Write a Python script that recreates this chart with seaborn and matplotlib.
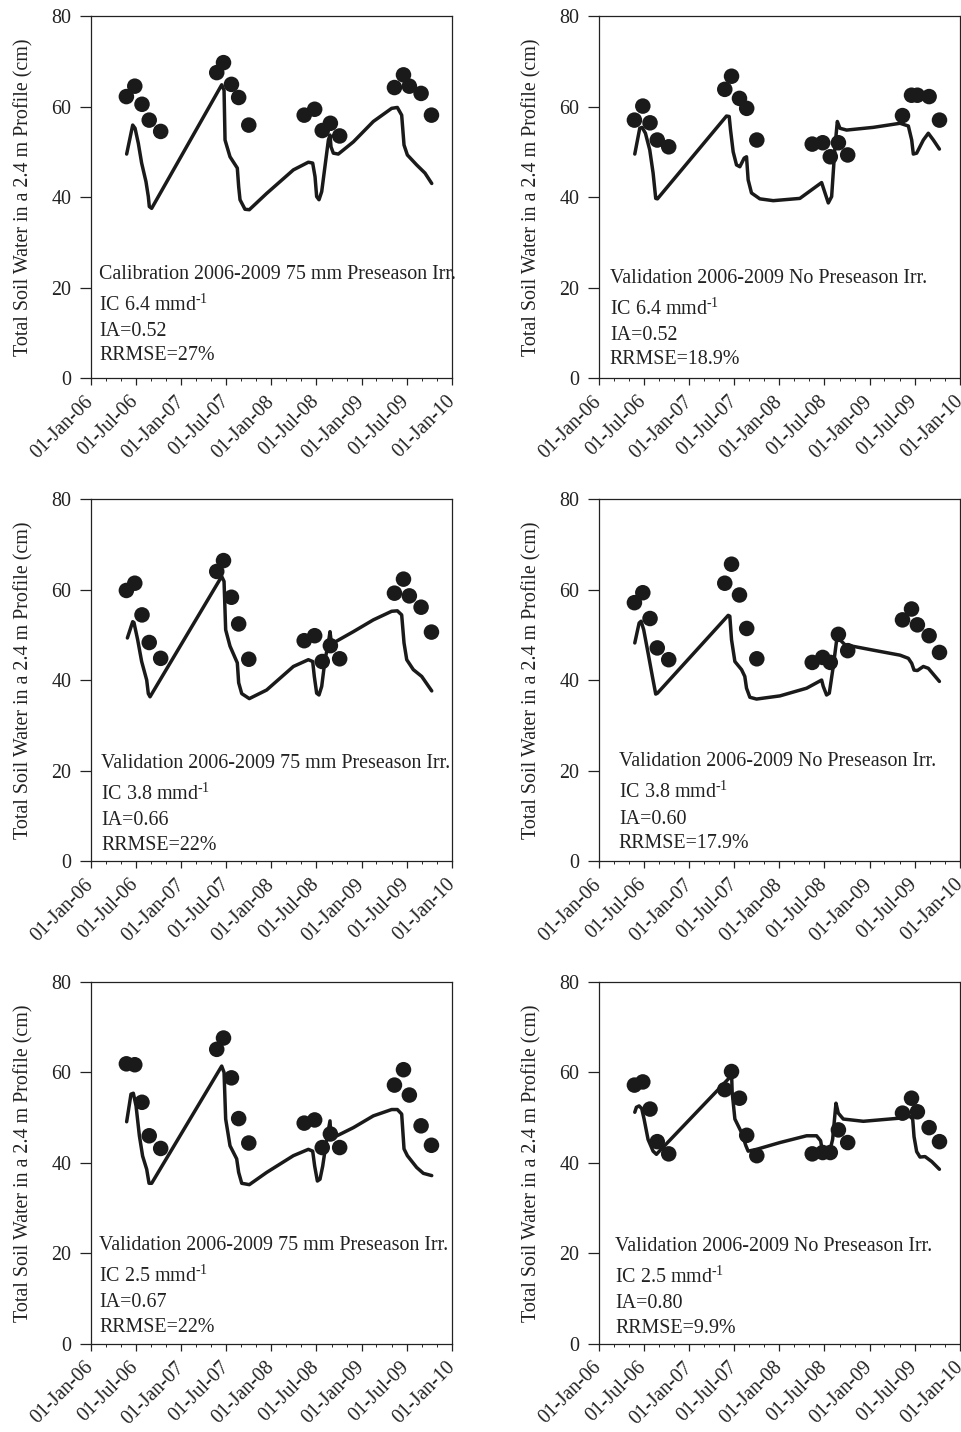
import numpy as np
import pandas as pd
import matplotlib
matplotlib.use("Agg")
import matplotlib.pyplot as plt
import matplotlib.dates as mdates
import seaborn as sns

obs_t = [2006.392, 2006.485, 2006.565, 2006.645, 2006.772,
         2007.393, 2007.468, 2007.556, 2007.636, 2007.748,
         2008.362, 2008.478, 2008.562, 2008.652, 2008.755,
         2009.362, 2009.462, 2009.527, 2009.657, 2009.772]

# measured total soil water (cm)
obs_1 = [62.2, 64.5, 60.5, 57.0, 54.5, 67.5, 69.7, 64.9, 62.0, 55.9,
         58.1, 59.4, 54.7, 56.3, 53.5, 64.2, 67.0, 64.5, 62.9, 58.1]
obs_2 = [57.0, 60.1, 56.4, 52.6, 51.1, 63.8, 66.7, 61.8, 59.6, 52.6,
         51.7, 52.0, 48.9, 52.0, 49.3, 58.0, 62.5, 62.5, 62.2, 57.0]
obs_3 = [59.8, 61.4, 54.4, 48.3, 44.8, 64.0, 66.4, 58.3, 52.4, 44.6,
         48.7, 49.8, 44.1, 47.6, 44.7, 59.2, 62.3, 58.6, 56.1, 50.6]
obs_4 = [57.1, 59.3, 53.6, 47.1, 44.5, 61.4, 65.6, 58.8, 51.4, 44.7,
         43.9, 45.0, 43.9, 50.1, 46.5, 53.3, 55.7, 52.2, 49.8, 46.1]
obs_5 = [61.9, 61.7, 53.4, 46.0, 43.2, 65.1, 67.6, 58.8, 49.8, 44.4,
         48.8, 49.5, 43.4, 46.4, 43.4, 57.2, 60.6, 55.0, 48.2, 43.9]
obs_6 = [57.2, 57.9, 51.9, 44.7, 42.0, 56.2, 60.2, 54.3, 46.1, 41.6,
         42.0, 42.3, 42.3, 47.3, 44.5, 51.0, 54.3, 51.3, 47.8, 44.7]

# simulated curves (decimal year, cm)
sim_t_1 = [2006.395, 2006.462, 2006.488, 2006.524, 2006.561, 2006.609, 2006.635, 2006.646, 2006.672,
           2007.448, 2007.474, 2007.485, 2007.540, 2007.621, 2007.636, 2007.651, 2007.706, 2007.754,
           2007.946, 2008.242, 2008.408, 2008.456, 2008.482, 2008.500, 2008.526, 2008.556, 2008.630,
           2008.648, 2008.659, 2008.685, 2008.740, 2008.907, 2009.128, 2009.331, 2009.394, 2009.442,
           2009.468, 2009.505, 2009.608, 2009.700, 2009.775]
sim_v_1 = [49.5, 55.9, 55.2, 51.9, 47.5, 43.4, 40.1, 37.9, 37.5,
           64.8, 63.6, 52.6, 48.9, 46.4, 42.3, 39.4, 37.3, 37.2,
           40.8, 46.0, 47.7, 47.5, 44.5, 40.1, 39.4, 41.2, 52.6,
           53.7, 51.1, 49.7, 49.5, 52.2, 56.7, 59.6, 59.8, 58.1,
           51.5, 49.3, 47.1, 45.3, 43.0]

sim_t_2 = [2006.396, 2006.451, 2006.477, 2006.514, 2006.562, 2006.599, 2006.628, 2006.647,
           2007.412, 2007.442, 2007.457, 2007.486, 2007.523, 2007.560, 2007.608, 2007.634, 2007.652,
           2007.689, 2007.782, 2007.930, 2008.225, 2008.466, 2008.492, 2008.540, 2008.577, 2008.614,
           2008.640, 2008.669, 2008.743, 2009.039, 2009.335, 2009.427, 2009.464, 2009.482, 2009.519,
           2009.593, 2009.648, 2009.704, 2009.771]
sim_v_2 = [49.5, 55.2, 55.4, 54.1, 50.4, 45.3, 39.7, 39.6,
           57.9, 57.8, 54.8, 50.0, 47.1, 46.7, 48.6, 48.9, 43.8,
           40.9, 39.6, 39.2, 39.7, 43.2, 41.6, 38.7, 40.1, 51.1,
           56.7, 55.2, 54.8, 55.4, 56.3, 55.7, 52.6, 49.5, 49.7,
           52.6, 54.1, 52.6, 50.6]

sim_t_3 = [2006.403, 2006.462, 2006.476, 2006.517, 2006.561, 2006.617, 2006.635, 2006.654,
           2007.448, 2007.474, 2007.492, 2007.540, 2007.621, 2007.636, 2007.670, 2007.754,
           2007.946, 2008.242, 2008.408, 2008.456, 2008.474, 2008.500, 2008.526, 2008.556, 2008.593,
           2008.630, 2008.648, 2008.659, 2008.685, 2008.907, 2009.128, 2009.331, 2009.394, 2009.442,
           2009.468, 2009.498, 2009.571, 2009.664, 2009.775]
sim_v_3 = [49.3, 52.9, 52.7, 48.9, 44.1, 40.0, 37.0, 36.3,
           62.9, 61.8, 51.1, 47.5, 43.8, 39.4, 37.0, 35.9,
           37.8, 43.0, 44.5, 44.1, 40.8, 37.1, 36.7, 38.6, 44.5,
           48.2, 50.7, 48.9, 48.2, 50.7, 53.3, 55.2, 55.3, 54.4,
           48.2, 44.5, 42.3, 40.8, 37.6]

sim_t_4 = [2006.396, 2006.444, 2006.466, 2006.495, 2006.543, 2006.591, 2006.628, 2006.647,
           2007.431, 2007.449, 2007.468, 2007.505, 2007.579, 2007.615, 2007.634, 2007.671, 2007.745,
           2008.004, 2008.300, 2008.466, 2008.484, 2008.521, 2008.551, 2008.595, 2008.640, 2008.669,
           2008.725, 2009.039, 2009.335, 2009.427, 2009.464, 2009.490, 2009.527, 2009.593, 2009.648,
           2009.771]
sim_v_4 = [48.2, 52.6, 53.0, 51.1, 46.0, 40.8, 36.9, 37.1,
           54.3, 54.1, 48.9, 44.1, 42.3, 40.8, 38.2, 36.2, 35.8,
           36.5, 38.2, 40.0, 38.6, 36.7, 37.1, 43.0, 50.0, 48.9,
           47.8, 46.6, 45.5, 44.8, 43.7, 42.2, 42.1, 43.0, 42.6,
           39.7]

sim_t_5 = [2006.395, 2006.443, 2006.469, 2006.499, 2006.536, 2006.572, 2006.617, 2006.643, 2006.672,
           2007.448, 2007.474, 2007.492, 2007.540, 2007.614, 2007.636, 2007.670, 2007.754,
           2007.946, 2008.242, 2008.408, 2008.456, 2008.478, 2008.508, 2008.537, 2008.567, 2008.611,
           2008.648, 2008.659, 2008.685, 2008.907, 2009.128, 2009.331, 2009.394, 2009.442, 2009.468,
           2009.505, 2009.608, 2009.682, 2009.775]
sim_v_5 = [49.1, 55.2, 55.4, 52.6, 46.0, 41.5, 38.6, 35.5, 35.5,
           61.4, 60.0, 49.7, 43.8, 40.9, 37.9, 35.5, 35.2,
           37.9, 41.6, 43.0, 42.6, 39.3, 36.0, 36.4, 39.3, 45.2,
           49.3, 45.2, 45.6, 47.8, 50.4, 51.8, 51.8, 50.8, 43.1,
           41.6, 39.0, 37.7, 37.2]

sim_t_6 = [2006.396, 2006.414, 2006.444, 2006.473, 2006.499, 2006.543, 2006.599, 2006.636, 2006.654,
           2007.449, 2007.468, 2007.475, 2007.505, 2007.579, 2007.627, 2007.652, 2007.745,
           2008.004, 2008.300, 2008.410, 2008.455, 2008.477, 2008.521, 2008.566, 2008.588, 2008.625,
           2008.651, 2008.706, 2008.928, 2009.335, 2009.444, 2009.475, 2009.490, 2009.519, 2009.556,
           2009.612, 2009.686, 2009.771]
sim_v_6 = [51.2, 52.3, 52.6, 52.0, 49.7, 45.2, 42.6, 41.9, 42.3,
           58.9, 60.0, 55.6, 49.7, 46.7, 43.8, 42.6, 43.0,
           44.5, 46.0, 46.0, 44.9, 42.3, 42.1, 43.4, 45.2, 53.2,
           51.0, 49.7, 49.2, 49.9, 50.3, 49.7, 45.8, 42.5, 41.3,
           41.4, 40.3, 38.6]

titles = ["Calibration 2006-2009 75 mm Preseason Irr.",
          "Validation 2006-2009 No Preseason Irr.",
          "Validation 2006-2009 75 mm Preseason Irr.",
          "Validation 2006-2009 No Preseason Irr.",
          "Validation 2006-2009 75 mm Preseason Irr.",
          "Validation 2006-2009 No Preseason Irr."]
ic_vals = ["6.4", "6.4", "3.8", "3.8", "2.5", "2.5"]
ia_vals = ["0.52", "0.52", "0.66", "0.60", "0.67", "0.80"]
rrmse_vals = ["27%", "18.9%", "22%", "17.9%", "22%", "9.9%"]

obs_all = [obs_1, obs_2, obs_3, obs_4, obs_5, obs_6]
sim_all = [(sim_t_1, sim_v_1), (sim_t_2, sim_v_2), (sim_t_3, sim_v_3),
           (sim_t_4, sim_v_4), (sim_t_5, sim_v_5), (sim_t_6, sim_v_6)]


def to_dates(t):
    t = np.asarray(t)
    return pd.Timestamp("2006-01-01") + pd.to_timedelta((t - 2006) * 365.25, unit="D")


sns.set_style("ticks")
plt.rcParams["font.family"] = ["Liberation Serif", "DejaVu Serif"]
plt.rcParams["mathtext.fontset"] = "custom"
plt.rcParams["mathtext.rm"] = "Liberation Serif"
plt.rcParams["mathtext.it"] = "Liberation Serif:italic"
plt.rcParams["axes.linewidth"] = 0.9
plt.rcParams["axes.edgecolor"] = "#222222"

ink = "#1a1a1a"
fig = plt.figure(figsize=(9.62, 14.32), dpi=100)

lefts = [0.0946, 0.6227]
bottoms = [0.736, 0.3987, 0.0615]
text_x = [0.022, 0.030, 0.028, 0.055, 0.022, 0.044]
text_y0 = [21.9, 21.0, 20.5, 20.9, 20.7, 20.5]
fs = 14.4

for i in range(6):
    ax = fig.add_axes([lefts[i % 2], bottoms[i // 2], 0.3753, 0.2528])

    st, sv = sim_all[i]
    sim_df = pd.DataFrame({"date": to_dates(st), "tsw": sv})
    obs_df = pd.DataFrame({"date": to_dates(obs_t), "tsw": obs_all[i]})

    sns.lineplot(data=sim_df, x="date", y="tsw", ax=ax, color=ink, lw=2.5,
                 sort=False, estimator=None, solid_joinstyle="round",
                 solid_capstyle="round")
    sns.scatterplot(data=obs_df, x="date", y="tsw", ax=ax, color=ink, s=125,
                    edgecolor="none", zorder=3)

    ax.set_xlim(pd.Timestamp("2006-01-01"), pd.Timestamp("2010-01-01"))
    ax.set_ylim(0, 80)
    ax.set_yticks([0, 20, 40, 60, 80])
    ax.xaxis.set_major_locator(mdates.MonthLocator(bymonth=[1, 7]))
    ax.xaxis.set_minor_locator(mdates.MonthLocator(interval=2))
    ax.xaxis.set_major_formatter(mdates.DateFormatter("%d-%b-%y"))
    ax.tick_params(axis="y", direction="out", length=8, width=0.9, labelsize=fs,
                   pad=6, colors="#222222", right=False)
    ax.tick_params(axis="x", which="major", direction="out", length=5, width=0.9,
                   labelsize=fs, pad=10, colors="#222222", top=False)
    ax.tick_params(axis="x", which="minor", direction="out", length=2.5, width=0.7,
                   top=False)
    for lab in ax.get_xticklabels():
        lab.set_rotation(45)
        lab.set_ha("right")
        lab.set_va("center")
        lab.set_rotation_mode("anchor")

    ax.set_xlabel("")
    ax.set_ylabel("Total Soil Water in a 2.4 m Profile (cm)", fontsize=fs,
                  color="#222222", labelpad=13)

    lines = [titles[i],
             "IC " + ic_vals[i] + r" mmd$^{\text{-1}}$",
             "IA=" + ia_vals[i],
             "RRMSE=" + rrmse_vals[i]]
    offsets = [0, -7.0, -12.6, -18.0]
    for txt, off in zip(lines, offsets):
        ax.text(text_x[i], text_y0[i] + off, txt, transform=ax.get_yaxis_transform(),
                fontsize=fs, color="#222222", ha="left", va="baseline")

fig.savefig("out.png", dpi=100)
